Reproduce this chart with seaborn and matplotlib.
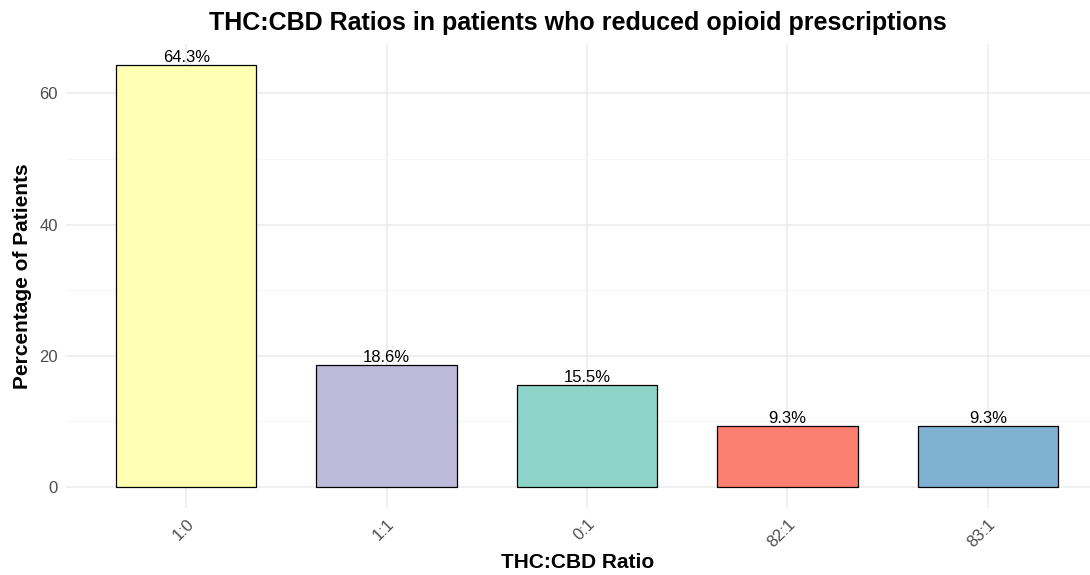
import pandas as pd
import seaborn as sns
import matplotlib.pyplot as plt
from matplotlib.ticker import MultipleLocator

ratios = ["1:0", "1:1", "0:1", "82:1", "83:1"]
percents = [64.3, 18.6, 15.5, 9.3, 9.3]
bar_colors = ["#FFFFB3", "#BEBADA", "#8DD3C7", "#FB8072", "#80B1D3"]

df = pd.DataFrame({"ratio": ratios, "pct": percents})

sns.set_style("white")
plt.rcParams["font.family"] = ["Liberation Sans", "DejaVu Sans"]
plt.rcParams["text.color"] = "black"
plt.rcParams["axes.labelcolor"] = "black"

fig = plt.figure(figsize=(10.9, 5.75), dpi=100)
ax = fig.add_axes([66 / 1090, 1 - 508 / 575, 1 - 66 / 1090, (508 - 44) / 575])

sns.barplot(data=df, x="ratio", y="pct", hue="ratio", palette=bar_colors,
            saturation=1, edgecolor="black", linewidth=0.9, width=0.7,
            legend=False, ax=ax, zorder=3)

for i, v in enumerate(percents):
    ax.text(i, v, f"{v}%", ha="center", va="bottom", fontsize=12, zorder=4)

ax.set_xlim(-0.6, 4.51)
ax.set_ylim(-64.3 * 0.05, 64.3 * 1.05)
ax.yaxis.set_major_locator(MultipleLocator(20))
ax.yaxis.set_minor_locator(MultipleLocator(10))
ax.grid(True, which="major", color="#EBEBEB", linewidth=1.1, zorder=0)
ax.grid(True, which="minor", axis="y", color="#F5F5F5", linewidth=0.6, zorder=0)
for s in ax.spines.values():
    s.set_visible(False)

ax.tick_params(axis="both", which="both", length=0, labelsize=12, labelcolor="#4D4D4D")
ax.tick_params(axis="y", pad=6)
ax.tick_params(axis="x", pad=6)
plt.setp(ax.get_xticklabels(), rotation=45, ha="right", rotation_mode="anchor")

ax.set_title("THC:CBD Ratios in patients who reduced opioid prescriptions",
             fontsize=18, fontweight="bold", pad=10)
ax.set_xlabel("THC:CBD Ratio", fontsize=15, fontweight="bold", va="center")
ax.xaxis.set_label_coords(0.5, -0.118)
ax.set_ylabel("Percentage of Patients", fontsize=15, fontweight="bold", labelpad=5)

fig.savefig("out.png", dpi=100)
